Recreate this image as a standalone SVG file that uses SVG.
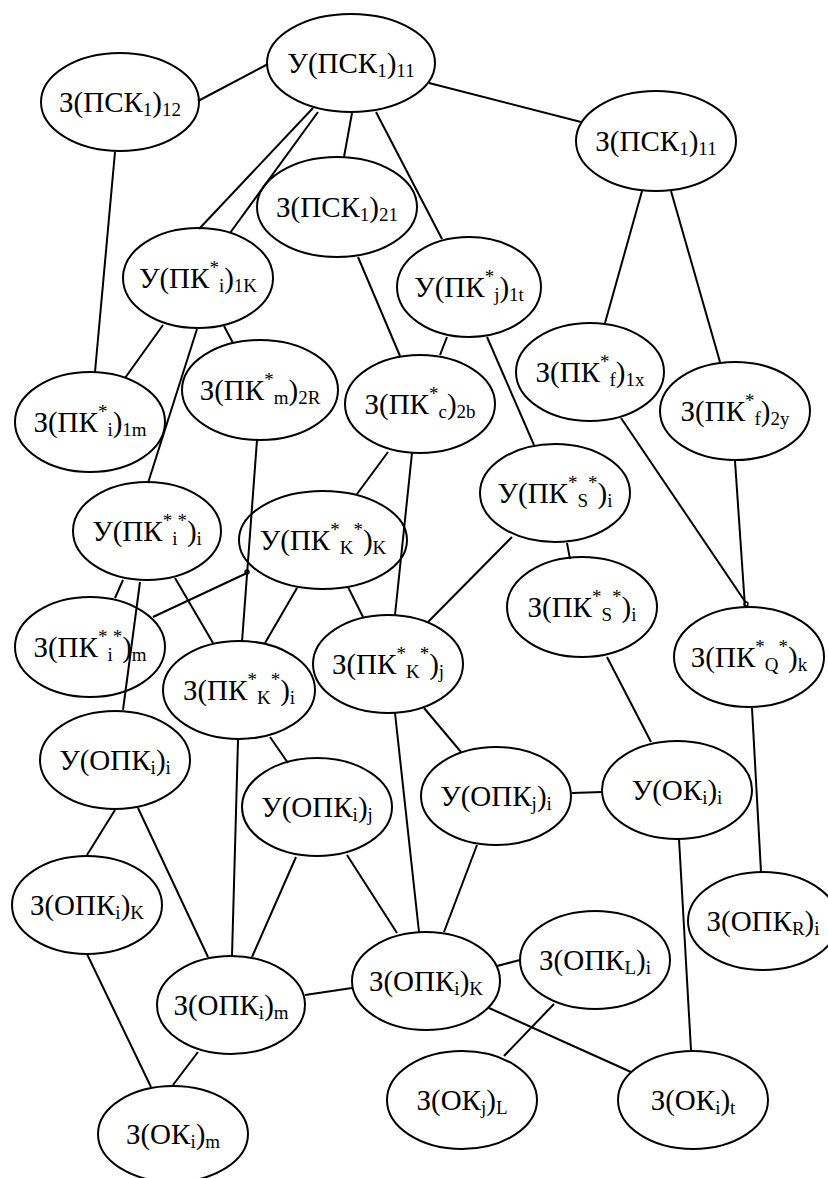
<svg xmlns="http://www.w3.org/2000/svg" width="828" height="1178" viewBox="0 0 828 1178">
<style>
.n ellipse{fill:#fff;stroke:#000;stroke-width:2}
.s{font-size:19px}
.t{font-family:'Liberation Serif',serif;font-size:29px}
#edges line{stroke:#000;stroke-width:2;fill:none}
#edges circle{stroke:#000;stroke-width:1.5;fill:none}
</style>
<rect width="828" height="1178" fill="#fff"/>
<g id="nodes" text-anchor="middle">
<g id="U_PSK1_11" class="n"><ellipse cx="351" cy="63" rx="84" ry="49"/><text class="t" x="351" y="73" style="font-family:'Liberation Serif'">У(ПСК<tspan class="s" dy="4">1</tspan><tspan dy="-4">)</tspan><tspan class="s" dy="4">11</tspan></text></g>
<g id="Z_PSK1_12" class="n"><ellipse cx="120" cy="102" rx="79" ry="49"/><text class="t" x="120" y="112" style="font-family:'Liberation Serif'">З(ПСК<tspan class="s" dy="4">1</tspan><tspan dy="-4">)</tspan><tspan class="s" dy="4">12</tspan></text></g>
<g id="Z_PSK1_11" class="n"><ellipse cx="656" cy="141" rx="80" ry="50"/><text class="t" x="656" y="151" style="font-family:'Liberation Serif'">З(ПСК<tspan class="s" dy="4">1</tspan><tspan dy="-4">)</tspan><tspan class="s" dy="4">11</tspan></text></g>
<g id="Z_PSK1_21" class="n"><ellipse cx="337" cy="207" rx="80" ry="50"/><text class="t" x="337" y="217" style="font-family:'Liberation Serif'">З(ПСК<tspan class="s" dy="4">1</tspan><tspan dy="-4">)</tspan><tspan class="s" dy="4">21</tspan></text></g>
<g id="U_PKi_1K" class="n"><ellipse cx="198" cy="278" rx="75" ry="50"/><text class="t" x="198" y="288" style="font-family:'Liberation Serif'">У(ПК<tspan class="s" dy="-14">*</tspan><tspan class="s" dy="18">i</tspan><tspan dy="-4">)</tspan><tspan class="s" dy="4">1K</tspan></text></g>
<g id="U_PKj_1t" class="n"><ellipse cx="469" cy="287" rx="72" ry="50"/><text class="t" x="469" y="297" style="font-family:'Liberation Serif'">У(ПК<tspan class="s" dy="-14">*</tspan><tspan class="s" dy="18">j</tspan><tspan dy="-4">)</tspan><tspan class="s" dy="4">1t</tspan></text></g>
<g id="Z_PKi_1m" class="n"><ellipse cx="90" cy="422" rx="75" ry="50"/><text class="t" x="90" y="432" style="font-family:'Liberation Serif'">З(ПК<tspan class="s" dy="-14">*</tspan><tspan class="s" dy="18">i</tspan><tspan dy="-4">)</tspan><tspan class="s" dy="4">1m</tspan></text></g>
<g id="Z_PKm_2R" class="n"><ellipse cx="260" cy="390" rx="78" ry="50"/><text class="t" x="260" y="400" style="font-family:'Liberation Serif'">З(ПК<tspan class="s" dy="-14">*</tspan><tspan class="s" dy="18">m</tspan><tspan dy="-4">)</tspan><tspan class="s" dy="4">2R</tspan></text></g>
<g id="Z_PKc_2b" class="n"><ellipse cx="420" cy="404" rx="75" ry="49"/><text class="t" x="420" y="414" style="font-family:'Liberation Serif'">З(ПК<tspan class="s" dy="-14">*</tspan><tspan class="s" dy="18">c</tspan><tspan dy="-4">)</tspan><tspan class="s" dy="4">2b</tspan></text></g>
<g id="Z_PKf_1x" class="n"><ellipse cx="590" cy="372" rx="74" ry="49"/><text class="t" x="590" y="382" style="font-family:'Liberation Serif'">З(ПК<tspan class="s" dy="-14">*</tspan><tspan class="s" dy="18">f</tspan><tspan dy="-4">)</tspan><tspan class="s" dy="4">1x</tspan></text></g>
<g id="Z_PKf_2y" class="n"><ellipse cx="735" cy="411" rx="75" ry="49"/><text class="t" x="735" y="421" style="font-family:'Liberation Serif'">З(ПК<tspan class="s" dy="-14">*</tspan><tspan class="s" dy="18">f</tspan><tspan dy="-4">)</tspan><tspan class="s" dy="4">2y</tspan></text></g>
<g id="U_PKii_i" class="n"><ellipse cx="147" cy="531" rx="74" ry="49"/><text class="t" x="147" y="541" style="font-family:'Liberation Serif'">У(ПК<tspan class="s" dy="-14">*</tspan><tspan class="s" dy="18">i</tspan><tspan class="s" dy="-18">*</tspan><tspan dy="14">)</tspan><tspan class="s" dy="4">i</tspan></text></g>
<g id="U_PKKK_K" class="n"><ellipse cx="323" cy="540" rx="84" ry="49"/><text class="t" x="323" y="550" style="font-family:'Liberation Serif'">У(ПК<tspan class="s" dy="-14">*</tspan><tspan class="s" dy="18">K</tspan><tspan class="s" dy="-18">*</tspan><tspan dy="14">)</tspan><tspan class="s" dy="4">K</tspan></text></g>
<g id="U_PKSS_i" class="n"><ellipse cx="555" cy="493" rx="75" ry="49"/><text class="t" x="555" y="503" style="font-family:'Liberation Serif'">У(ПК<tspan class="s" dy="-14">*</tspan><tspan class="s" dy="18">S</tspan><tspan class="s" dy="-18">*</tspan><tspan dy="14">)</tspan><tspan class="s" dy="4">i</tspan></text></g>
<g id="Z_PKii_m" class="n"><ellipse cx="90" cy="647" rx="75" ry="50"/><text class="t" x="90" y="657" style="font-family:'Liberation Serif'">З(ПК<tspan class="s" dy="-14">*</tspan><tspan class="s" dy="18">i</tspan><tspan class="s" dy="-18">*</tspan><tspan dy="14">)</tspan><tspan class="s" dy="4">m</tspan></text></g>
<g id="Z_PKKK_i" class="n"><ellipse cx="239" cy="690" rx="76" ry="49"/><text class="t" x="239" y="700" style="font-family:'Liberation Serif'">З(ПК<tspan class="s" dy="-14">*</tspan><tspan class="s" dy="18">K</tspan><tspan class="s" dy="-18">*</tspan><tspan dy="14">)</tspan><tspan class="s" dy="4">i</tspan></text></g>
<g id="Z_PKKK_j" class="n"><ellipse cx="388" cy="664" rx="75" ry="49"/><text class="t" x="388" y="674" style="font-family:'Liberation Serif'">З(ПК<tspan class="s" dy="-14">*</tspan><tspan class="s" dy="18">K</tspan><tspan class="s" dy="-18">*</tspan><tspan dy="14">)</tspan><tspan class="s" dy="4">j</tspan></text></g>
<g id="Z_PKSS_i" class="n"><ellipse cx="582" cy="607" rx="75" ry="50"/><text class="t" x="582" y="617" style="font-family:'Liberation Serif'">З(ПК<tspan class="s" dy="-14">*</tspan><tspan class="s" dy="18">S</tspan><tspan class="s" dy="-18">*</tspan><tspan dy="14">)</tspan><tspan class="s" dy="4">i</tspan></text></g>
<g id="Z_PKQQ_k" class="n"><ellipse cx="749" cy="657" rx="75" ry="50"/><text class="t" x="749" y="667" style="font-family:'Liberation Serif'">З(ПК<tspan class="s" dy="-14">*</tspan><tspan class="s" dy="18">Q</tspan><tspan class="s" dy="-18">*</tspan><tspan dy="14">)</tspan><tspan class="s" dy="4">k</tspan></text></g>
<g id="U_OPKi_i" class="n"><ellipse cx="115" cy="760" rx="75" ry="49"/><text class="t" x="115" y="770" style="font-family:'Liberation Serif'">У(ОПК<tspan class="s" dy="4">i</tspan><tspan dy="-4">)</tspan><tspan class="s" dy="4">i</tspan></text></g>
<g id="U_OPKi_j" class="n"><ellipse cx="317" cy="807" rx="75" ry="49"/><text class="t" x="317" y="817" style="font-family:'Liberation Serif'">У(ОПК<tspan class="s" dy="4">i</tspan><tspan dy="-4">)</tspan><tspan class="s" dy="4">j</tspan></text></g>
<g id="U_OPKj_i" class="n"><ellipse cx="496" cy="796" rx="75" ry="49"/><text class="t" x="496" y="806" style="font-family:'Liberation Serif'">У(ОПК<tspan class="s" dy="4">j</tspan><tspan dy="-4">)</tspan><tspan class="s" dy="4">i</tspan></text></g>
<g id="U_OKi_i" class="n"><ellipse cx="677" cy="790" rx="75" ry="49"/><text class="t" x="677" y="800" style="font-family:'Liberation Serif'">У(ОК<tspan class="s" dy="4">i</tspan><tspan dy="-4">)</tspan><tspan class="s" dy="4">i</tspan></text></g>
<g id="Z_OPKi_K_left" class="n"><ellipse cx="87" cy="905" rx="75" ry="49"/><text class="t" x="87" y="915" style="font-family:'Liberation Serif'">З(ОПК<tspan class="s" dy="4">i</tspan><tspan dy="-4">)</tspan><tspan class="s" dy="4">K</tspan></text></g>
<g id="Z_OPKi_m" class="n"><ellipse cx="231" cy="1005" rx="74" ry="49"/><text class="t" x="231" y="1015" style="font-family:'Liberation Serif'">З(ОПК<tspan class="s" dy="4">i</tspan><tspan dy="-4">)</tspan><tspan class="s" dy="4">m</tspan></text></g>
<g id="Z_OPKi_K" class="n"><ellipse cx="426" cy="981" rx="74" ry="49"/><text class="t" x="426" y="991" style="font-family:'Liberation Serif'">З(ОПК<tspan class="s" dy="4">i</tspan><tspan dy="-4">)</tspan><tspan class="s" dy="4">K</tspan></text></g>
<g id="Z_OPKL_i" class="n"><ellipse cx="595" cy="960" rx="75" ry="49"/><text class="t" x="595" y="970" style="font-family:'Liberation Serif'">З(ОПК<tspan class="s" dy="4">L</tspan><tspan dy="-4">)</tspan><tspan class="s" dy="4">i</tspan></text></g>
<g id="Z_OPKR_i" class="n"><ellipse cx="763" cy="921" rx="75" ry="49"/><text class="t" x="763" y="931" style="font-family:'Liberation Serif'">З(ОПК<tspan class="s" dy="4">R</tspan><tspan dy="-4">)</tspan><tspan class="s" dy="4">i</tspan></text></g>
<g id="Z_OKi_m" class="n"><ellipse cx="173" cy="1134" rx="75" ry="48"/><text class="t" x="173" y="1144" style="font-family:'Liberation Serif'">З(ОК<tspan class="s" dy="4">i</tspan><tspan dy="-4">)</tspan><tspan class="s" dy="4">m</tspan></text></g>
<g id="Z_OKj_L" class="n"><ellipse cx="462" cy="1100" rx="75" ry="49"/><text class="t" x="462" y="1110" style="font-family:'Liberation Serif'">З(ОК<tspan class="s" dy="4">j</tspan><tspan dy="-4">)</tspan><tspan class="s" dy="4">L</tspan></text></g>
<g id="Z_OKi_t" class="n"><ellipse cx="693" cy="1100" rx="75" ry="49"/><text class="t" x="693" y="1110" style="font-family:'Liberation Serif'">З(ОК<tspan class="s" dy="4">i</tspan><tspan dy="-4">)</tspan><tspan class="s" dy="4">t</tspan></text></g>
</g>
<g id="edges">
<line x1="198" y1="101" x2="268" y2="64"/>
<line x1="429" y1="83" x2="581" y2="122"/>
<line x1="313" y1="108" x2="199" y2="229"/>
<line x1="318" y1="112" x2="230" y2="233"/>
<line x1="352" y1="113" x2="344" y2="157"/>
<line x1="376" y1="112" x2="442" y2="239"/>
<line x1="115" y1="152" x2="95" y2="372"/>
<line x1="642" y1="191" x2="605" y2="323"/>
<line x1="671" y1="191" x2="720" y2="362"/>
<line x1="358" y1="257" x2="400" y2="356"/>
<line x1="163" y1="325" x2="125" y2="378"/>
<line x1="197" y1="329" x2="148" y2="483"/>
<line x1="224" y1="326" x2="233" y2="343"/>
<line x1="447" y1="337" x2="440" y2="355"/>
<line x1="487" y1="337" x2="534" y2="445"/>
<line x1="257" y1="440" x2="242" y2="642"/>
<line x1="388" y1="452" x2="357" y2="494"/>
<line x1="412" y1="453" x2="395" y2="615"/>
<line x1="621" y1="418" x2="746" y2="603"/>
<line x1="735" y1="461" x2="745" y2="607"/>
<line x1="567" y1="543" x2="570" y2="559"/>
<line x1="512" y1="537" x2="428" y2="622"/>
<line x1="123" y1="580" x2="115" y2="598"/>
<line x1="140" y1="582" x2="123" y2="710"/>
<line x1="175" y1="578" x2="213" y2="643"/>
<line x1="153" y1="617" x2="247" y2="573"/>
<line x1="297" y1="588" x2="265" y2="643"/>
<line x1="348" y1="587" x2="363" y2="617"/>
<line x1="270" y1="737" x2="288" y2="763"/>
<line x1="238" y1="740" x2="232" y2="956"/>
<line x1="115" y1="810" x2="87" y2="855"/>
<line x1="138" y1="808" x2="208" y2="957"/>
<line x1="296" y1="857" x2="252" y2="957"/>
<line x1="347" y1="855" x2="397" y2="933"/>
<line x1="395" y1="713" x2="419" y2="932"/>
<line x1="424" y1="708" x2="461" y2="752"/>
<line x1="572" y1="793" x2="602" y2="792"/>
<line x1="477" y1="845" x2="444" y2="932"/>
<line x1="607" y1="657" x2="651" y2="742"/>
<line x1="679" y1="839" x2="691" y2="1050"/>
<line x1="752" y1="708" x2="761" y2="872"/>
<line x1="87" y1="954" x2="151" y2="1087"/>
<line x1="305" y1="995" x2="352" y2="988"/>
<line x1="198" y1="1052" x2="173" y2="1085"/>
<line x1="497" y1="966" x2="520" y2="960"/>
<line x1="489" y1="1008" x2="631" y2="1072"/>
<line x1="554" y1="1004" x2="504" y2="1056"/>
<circle cx="746" cy="604" r="2"/>
<circle cx="247" cy="572" r="2"/>
</g>
</svg>
